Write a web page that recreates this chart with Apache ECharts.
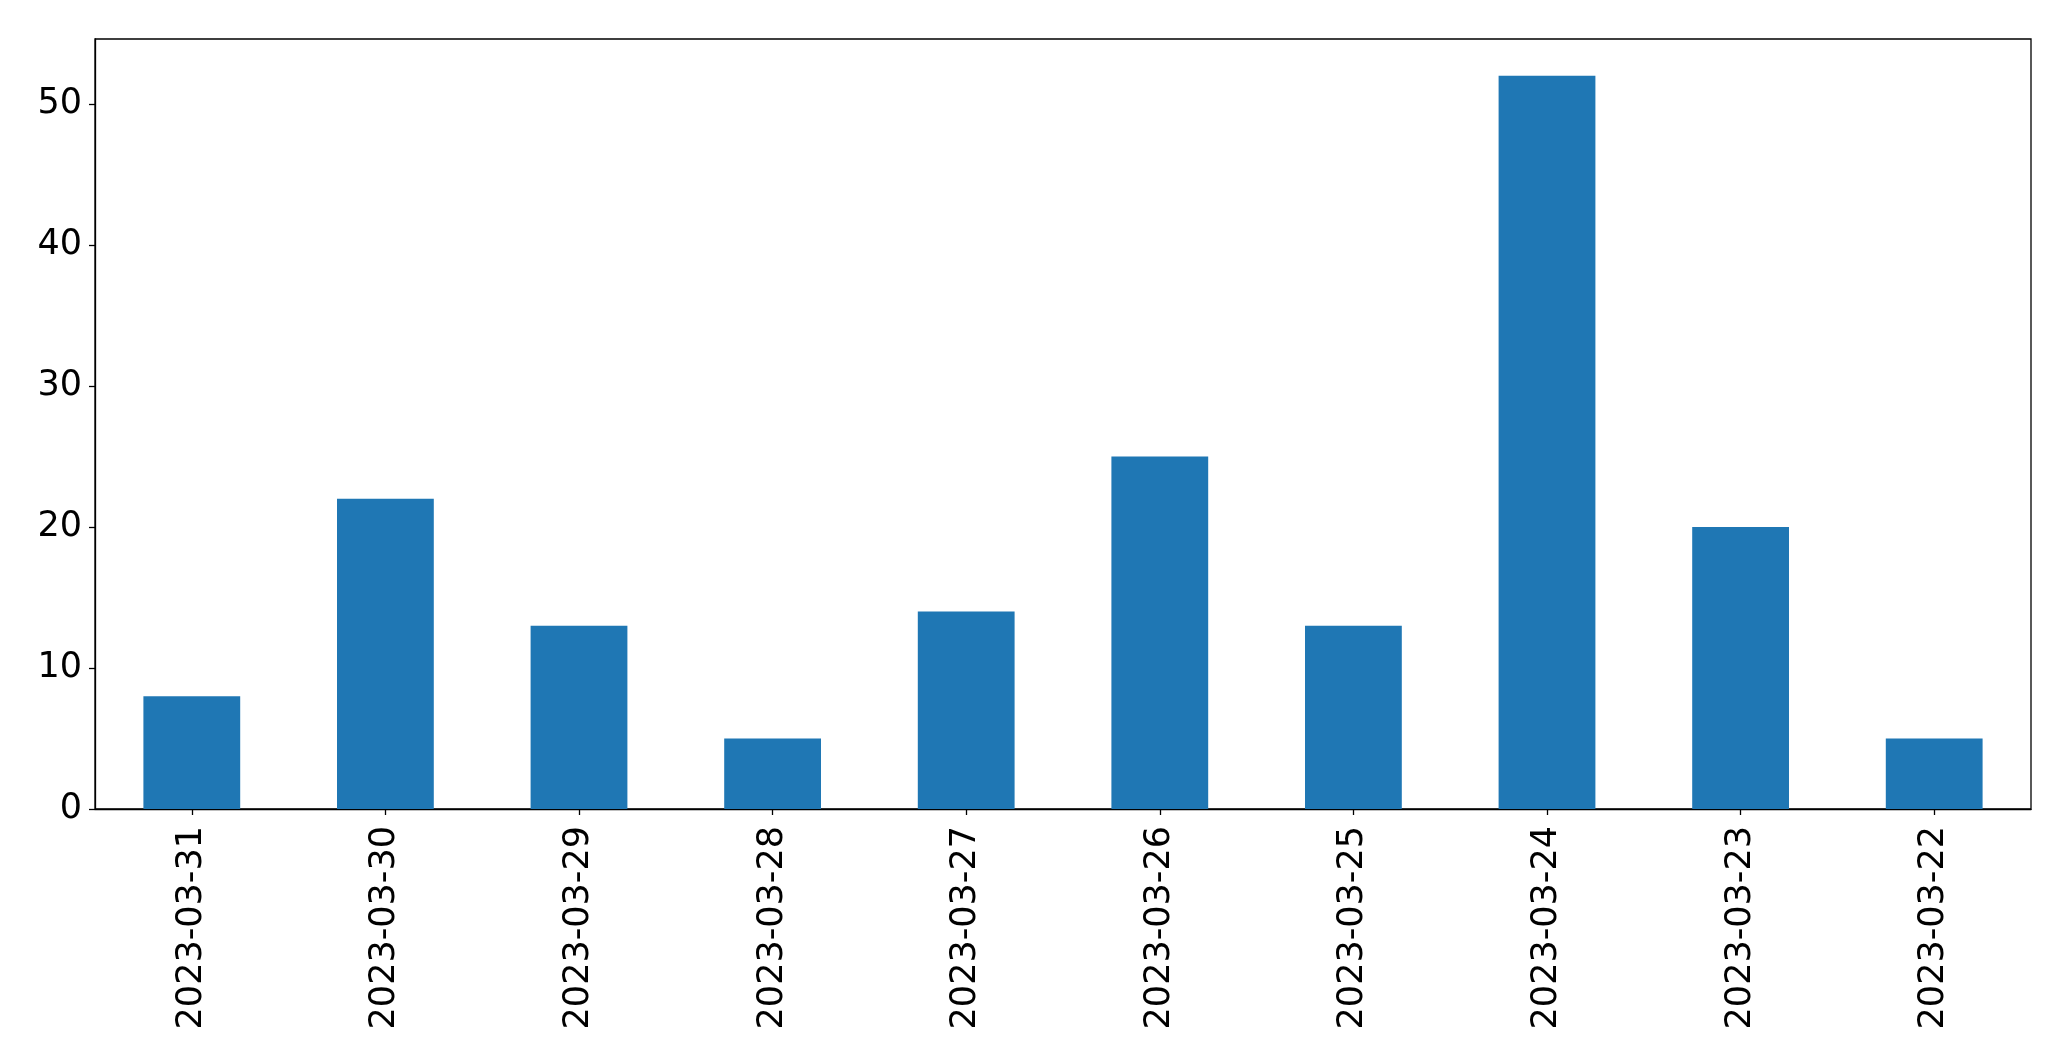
<!DOCTYPE html>
<html lang="en">
<head>
    <meta charset="UTF-8">
    <title>Bar chart</title>
    <script src="https://cdn.jsdelivr.net/npm/echarts@6/dist/echarts.min.js"></script>
    <style>
        html, body { margin: 0; padding: 0; background: #fff; }
    </style>
</head>
<body>
<div id="main" style="width: 2071px;height:1061px;"></div>
<script type="text/javascript">
    // data
    var dates = ['2023-03-31', '2023-03-30', '2023-03-29', '2023-03-28', '2023-03-27',
                 '2023-03-26', '2023-03-25', '2023-03-24', '2023-03-23', '2023-03-22'];
    var counts = [8, 22, 13, 5, 14, 25, 13, 52, 20, 5];
    var yTicks = [0, 10, 20, 30, 40, 50];

    var myChart = echarts.init(document.getElementById('main'));

    var font = 'DejaVu Sans';

    myChart.setOption({
        animation: false,
        grid: {
            left: 95,
            right: 40,
            top: 39,
            bottom: 252,
            show: true,
            borderColor: '#000',
            borderWidth: 1.3,
            backgroundColor: 'transparent'
        },
        xAxis: {
            type: 'category',
            data: dates,
            boundaryGap: true,
            axisLine: { show: true, lineStyle: { color: '#000', width: 1.3 } },
            axisTick: { show: true, alignWithLabel: true, length: 6, lineStyle: { color: '#000', width: 1.3 } },
            axisLabel: {
                rotate: 90,
                margin: 17,
                color: '#000',
                fontFamily: font,
                fontSize: 35
            },
            splitLine: { show: false }
        },
        yAxis: {
            type: 'value',
            min: 0,
            max: 54.6,
            interval: 10,
            axisLine: { show: true, lineStyle: { color: '#000', width: 1.3 } },
            axisTick: { show: true, length: 6, lineStyle: { color: '#000', width: 1.3 }, customValues: yTicks },
            axisLabel: {
                margin: 13,
                color: '#000',
                fontFamily: font,
                fontSize: 35,
                customValues: yTicks
            },
            splitLine: { show: false }
        },
        series: [
            {
                type: 'bar',
                data: counts,
                barWidth: '50%',
                itemStyle: { color: '#1f77b4' }
            }
        ]
    });
</script>
</body>
</html>
